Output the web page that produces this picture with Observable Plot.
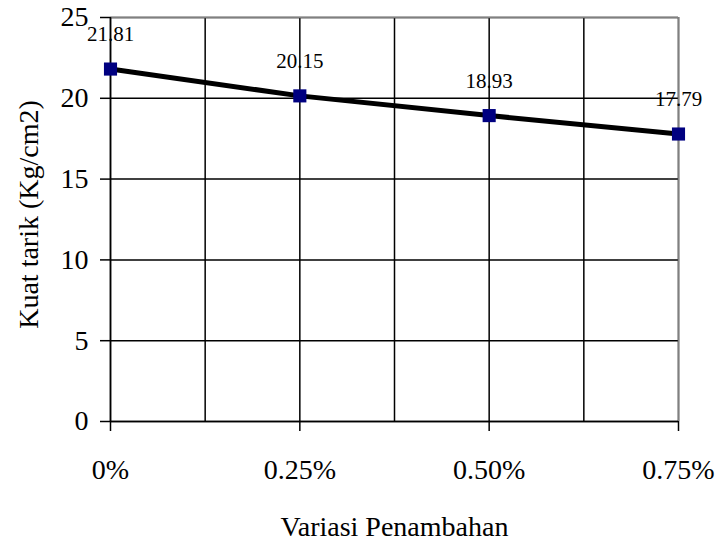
<!DOCTYPE html>
<html>
<head>
<meta charset="utf-8">
<script src="https://cdn.jsdelivr.net/npm/d3@7"></script>
<script src="https://cdn.jsdelivr.net/npm/@observablehq/plot@0.6"></script>
<style>
  html, body { margin: 0; padding: 0; background: #fff; }
</style>
</head>
<body>
<div id="chart"></div>
<script>
const categories = ["0%", "0.25%", "0.50%", "0.75%"];
const xValues = [0, 0.25, 0.5, 0.75];
const strength = [21.81, 20.15, 18.93, 17.79];
const yTicks = [0, 5, 10, 15, 20, 25];
const xGrid = [0, 0.125, 0.25, 0.375, 0.5, 0.625, 0.75];
const xTitle = "Variasi Penambahan";
const yTitle = "Kuat tarik (Kg/cm2)";

const data = xValues.map((x, i) => ({x, y: strength[i], label: strength[i].toFixed(2), cat: categories[i]}));

const chart = Plot.plot({
  width: 717,
  height: 540,
  marginLeft: 110,
  marginRight: 39,
  marginTop: 17,
  marginBottom: 119,
  style: {fontFamily: "'Liberation Serif', 'Times New Roman', serif", background: "#fff", color: "#000"},
  x: {domain: [0, 0.75]},
  y: {domain: [0, 25]},
  marks: [
    Plot.gridX(xGrid, {stroke: "#000", strokeOpacity: 1, strokeWidth: 1.5}),
    Plot.gridY(yTicks, {stroke: "#000", strokeOpacity: 1, strokeWidth: 1.5}),
    Plot.ruleX([0.75], {stroke: "#808080", strokeWidth: 1.5}),
    Plot.ruleY([25], {stroke: "#808080", strokeWidth: 1.5}),
    Plot.ruleX([0], {stroke: "#000", strokeWidth: 1.5}),
    Plot.ruleY([0], {stroke: "#000", strokeWidth: 1.5}),
    Plot.axisY({ticks: yTicks, tickSize: 10, tickPadding: 12, fontSize: 28, label: null, strokeWidth: 1.5}),
    Plot.axisX({ticks: xValues, tickFormat: (d) => categories[xValues.indexOf(d)], tickSize: 10, tickPadding: 28, fontSize: 28, label: null, strokeWidth: 1.5}),
    Plot.line(data, {x: "x", y: "y", stroke: "#000", strokeWidth: 5}),
    Plot.dot(data, {x: "x", y: "y", symbol: "square", r: 7.4, fill: "#000080", stroke: "none"}),
    Plot.text(data, {x: "x", y: "y", text: "label", dy: -28, lineAnchor: "bottom", fontSize: 21, fill: "#000"}),
    Plot.text([xTitle], {frameAnchor: "bottom", dy: 114, lineAnchor: "bottom", fontSize: 28, fill: "#000"}),
    Plot.text([yTitle], {frameAnchor: "left", textAnchor: "middle", rotate: -90, dx: -73, dy: -5, lineAnchor: "bottom", fontSize: 28, fill: "#000"})
  ]
});
document.getElementById("chart").appendChild(chart);
</script>
</body>
</html>
